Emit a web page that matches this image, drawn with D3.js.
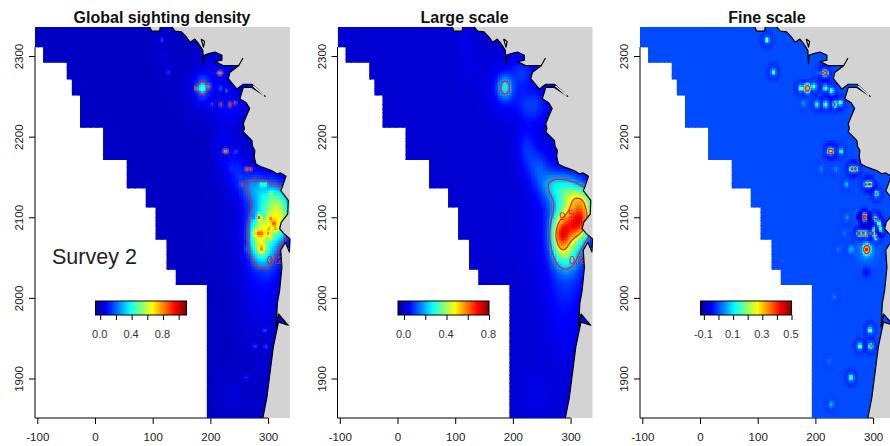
<!DOCTYPE html>
<html>
<head>
<meta charset="utf-8">
<script src="https://cdn.jsdelivr.net/npm/d3@7"></script>
<style>
  html, body { margin: 0; padding: 0; background: #fff; overflow: hidden; }
  svg { display: block; font-family: "Liberation Sans", Arial, sans-serif; }
</style>
</head>
<body>
<div id="chart"></div>
<script>
// tick labels
const xTicks = [-100, 0, 100, 200, 300];
const yTicks = [1900, 2000, 2100, 2200, 2300];

// west edge of the survey block, km
const surveyEdge = [
  [-104, 2311], [-90, 2311], [-90, 2292], [-49, 2292], [-49, 2271], [-40, 2271], [-40, 2251],
  [-26, 2251], [-26, 2211], [14, 2211], [14, 2171], [55, 2171], [55, 2136], [88, 2136],
  [88, 2112], [105, 2112], [105, 2072], [124, 2072], [124, 2035], [140, 2035], [140, 2016],
  [194, 2016], [194, 1851]
];
const coastTop = [[95, 2336], [98, 2331], [112, 2331], [113, 2336]];
const coast = [
  [133, 2336], [139, 2331], [150, 2330], [158, 2324], [165, 2317], [173, 2321], [178, 2317], [187, 2307],
  [188, 2290], [189, 2301], [197, 2303], [208, 2305], [220, 2301], [220, 2295], [208, 2293],
  [223, 2288], [237, 2288], [249, 2288], [256, 2297], [249, 2288], [234, 2280], [231, 2272],
  [246, 2259], [257, 2265], [272, 2265], [295, 2250], [272, 2261], [257, 2261], [251, 2247],
  [262, 2242], [268, 2235], [262, 2225], [257, 2216], [259, 2210], [257, 2206], [264, 2201],
  [272, 2195], [273, 2188], [277, 2183], [276, 2175], [279, 2166], [287, 2163], [298, 2160],
  [306, 2158], [315, 2154], [322, 2155], [331, 2151], [325, 2138], [322, 2133], [335, 2121],
  [334, 2104], [323, 2094], [320, 2086], [327, 2080], [338, 2073], [337, 2057], [330, 2069],
  [322, 2059], [324, 2038], [320, 2009], [316, 1993], [314, 1964], [318, 1980], [335, 1966],
  [318, 1970], [309, 1939], [298, 1877], [291, 1851]
];
const river = [[274, 2263], [293, 2251]];
const island = [[184, 2321], [190, 2318], [188, 2311], [184, 2321]];

// large scale surface: x, y, height, spread x, spread y
const largeBlobs = [
  [283, 2078, 0.40, 11, 16], [310, 2092, 0.30, 13, 15], [298, 2086, 0.30, 20, 30],
  [325, 2100, 0.28, 12, 14], [318, 2122, 0.18, 16, 10], [300, 2125, 0.10, 28, 16],
  [290, 2050, 0.10, 14, 12], [285, 2100, 0.03, 45, 60], [186, 2261, 0.20, 9, 10],
  [190, 2258, 0.05, 24, 24], [218, 2280, 0.07, 14, 12], [240, 2240, 0.05, 20, 15],
  [230, 2236, 0.04, 16, 14], [224, 2186, 0.07, 12, 18], [245, 2160, 0.09, 14, 16],
  [270, 2140, 0.11, 16, 12], [295, 2135, 0.08, 20, 12], [290, 2020, 0.05, 22, 30],
  [290, 1960, 0.025, 25, 40], [240, 1880, 0.02, 20, 20], [114, 2320, 0.015, 12, 20],
  [126, 2286, 0.015, 12, 16]
];
// fine scale spikes: x, y, height, spread
const fineBlobs = [
  [116, 2320, 0.21, 2], [127, 2280, 0.22, 2], [218, 2279, 0.30, 2.2], [213, 2279, 0.2, 1.8],
  [205, 2279, 0.05, 1.8], [186, 2260, 0.34, 3.5], [175, 2260, 0.25, 2], [197, 2262, 0.2, 2],
  [218, 2260, 0.2, 2], [228, 2257, 0.2, 2], [179, 2241, 0.05, 2.2], [203, 2240, 0.21, 2],
  [218, 2240, 0.21, 2], [234, 2240, 0.24, 2.2], [243, 2242, 0.22, 2], [224, 2182, 0.28, 2.2],
  [229, 2182, 0.28, 2], [244, 2182, 0.15, 2], [263, 2160, 0.27, 2], [270, 2160, 0.27, 2],
  [236, 2160, 0.05, 2], [210, 2160, 0.04, 2], [288, 2141, 0.25, 2], [295, 2141, 0.28, 2],
  [254, 2141, 0.08, 2], [306, 2129, 0.22, 1.8], [285, 2100, 0.62, 1.8], [276, 2100, -0.1, 2],
  [294, 2100, -0.09, 2], [304, 2098, 0.3, 2], [310, 2092, 0.3, 2], [313, 2085, 0.28, 2],
  [300, 2080, 0.28, 2], [305, 2075, 0.24, 2], [276, 2080, 0.28, 2], [283, 2080, 0.28, 2],
  [290, 2080, 0.28, 2], [302, 2086, 0.28, 1.8], [289, 2060, 0.2, 2], [289, 2060, 0.26, 6],
  [262, 2060, 0.06, 3], [240, 2060, 0.03, 2], [255, 2100, 0.05, 2], [250, 2080, 0.03, 2],
  [289, 2032, -0.04, 5], [295, 1960, 0.22, 2], [277, 1940, 0.22, 2], [296, 1940, 0.22, 2],
  [224, 1921, 0.03, 2], [262, 1901, 0.2, 2], [228, 1868, 0.08, 2], [233, 2001, 0.03, 2]
];

// tim.colors style ramp
const jetStops = [0, 0.125, 0.375, 0.625, 0.875, 1];
const jetColors = ['#00008f', '#0000ff', '#00ffff', '#ffff00', '#ff0000', '#800000'];

const panelTitles = ['Global sighting density', 'Large scale', 'Fine scale'];
const panelRanges = [[-0.06, 1.1], [-0.057, 0.8], [-0.123, 0.5]];
const panelLevels = [[0.2, 0.9], [0.2, 0.5], [0.2, 0.4]];
const legendTicks = [
  [0, 0.2, 0.4, 0.6, 0.8, 1],
  [0, 0.2, 0.4, 0.6, 0.8],
  [-0.1, 0, 0.1, 0.2, 0.3, 0.4, 0.5]
];
const contourLabels = [
  [{ t: '0.2', x: 312, y: 2047, r: 0 }],
  [{ t: '0.2', x: 311, y: 2047, r: 0 }, { t: '0.5', x: 294, y: 2103, r: -15 }],
  []
];

const width = 890, height = 446;
const panelStep = 302.5;
const plot = { left: 35, right: 290, top: 27, bottom: 418 };

const svg = d3.select('#chart').append('svg').attr('width', width).attr('height', height);
const defs = svg.append('defs');

const x = d3.scaleLinear().domain([-104, 338]).range([plot.left, plot.right]);
const y = d3.scaleLinear().domain([1851, 2336]).range([plot.bottom, plot.top]);

// survey polygon: top left corner, along the coast, back up the stepped west edge
const sea = [[-104, 2336]].concat(coastTop, coast, surveyEdge.slice().reverse());
const west = surveyEdge.concat([[-104, 1851]]);
const lineXY = d3.line().x(d => x(d[0])).y(d => y(d[1]));

// grid for the surface
const dx = 3, dy = 2;
const gx = d3.range(-104, 338, dx);
const gy = d3.range(2336, 1851, -dy);
const nx = gx.length, ny = gy.length;

function largeAt(px, py) {
  let v = 0.008;
  largeBlobs.forEach(b => {
    const a = (px - b[0]) / b[3], c = (py - b[1]) / b[4];
    v += b[2] * Math.exp(-0.5 * (a * a + c * c));
  });
  return v;
}
function fineAt(px, py) {
  let v = 0;
  fineBlobs.forEach(b => {
    const d = Math.hypot(px - b[0], py - b[1]);
    if (d > 20 + b[3]) return;
    const r = d / b[3];
    // spike, pale halo, dark ring round it
    v += b[2] * (Math.exp(-0.5 * r * r) + 0.08 * Math.exp(-0.5 * (r / 2.4) ** 2)
      - 0.09 * Math.exp(-0.5 * ((d - 9) / 2.5) ** 2));
  });
  return v;
}

const large = [], fine = [], cells = [];
gy.forEach((py, j) => {
  gx.forEach((px, i) => {
    const cx = px + dx / 2, cy = py - dy / 2;
    large.push(largeAt(cx, cy));
    fine.push(fineAt(cx, cy));
    // a little wider than the cell so the edge of the clip always has colour under it
    const corners = [[px - 1, py + 1], [px + dx + 1, py + 1], [px - 1, py - dy - 1], [px + dx + 1, py - dy - 1]];
    if (corners.some(c => d3.polygonContains(sea, c))) cells.push({ i, j, k: j * nx + i });
  });
});
const globalField = large.map((v, k) => v + 0.7 * fine[k]);
const fields = [globalField, large, fine];

panelTitles.forEach((title, p) => {
  const g = svg.append('g').attr('transform', `translate(${p * panelStep},0)`);
  const [lo, hi] = panelRanges[p];
  const field = fields[p];

  const color = d3.scaleLinear()
    .domain(jetStops.map(s => lo + s * (hi - lo)))
    .range(jetColors)
    .clamp(true);

  // land, then the blank part west of the survey block
  g.append('rect').attr('x', plot.left).attr('y', plot.top)
    .attr('width', plot.right - plot.left).attr('height', plot.bottom - plot.top)
    .attr('fill', '#d3d3d3');
  g.append('path').attr('d', lineXY(west) + 'Z').attr('fill', '#fff');

  // axes
  const xAxis = g.append('g').attr('transform', `translate(0,${plot.bottom})`)
    .call(d3.axisBottom(x).tickValues(xTicks).tickSize(6).tickPadding(9).tickFormat(d => String(d)));
  xAxis.select('.domain').remove();
  xAxis.append('line').attr('x1', plot.left).attr('x2', x(300)).attr('stroke', '#000');
  xAxis.selectAll('text').attr('font-size', 11.5).attr('font-family', null).attr('fill', '#222');

  const yAxis = g.append('g').attr('transform', `translate(${plot.left},0)`)
    .call(d3.axisLeft(y).tickValues(yTicks).tickSize(6).tickFormat(d => String(d)));
  yAxis.select('.domain').remove();
  yAxis.append('line').attr('y1', y(2311)).attr('y2', plot.bottom).attr('stroke', '#000');
  yAxis.selectAll('.tick text')
    .attr('font-size', 11.5).attr('font-family', null).attr('fill', '#222')
    .attr('x', null).attr('dy', null)
    .attr('text-anchor', 'middle')
    .attr('transform', 'translate(-12,0) rotate(-90)');

  // surface, clipped to the survey polygon
  const clipId = 'sea-' + p;
  defs.append('clipPath').attr('id', clipId).append('path').attr('d', lineXY(sea) + 'Z');
  const surface = g.append('g').attr('clip-path', `url(#${clipId})`);

  surface.append('g').attr('shape-rendering', 'crispEdges')
    .selectAll('rect')
    .data(cells)
    .join('rect')
    .attr('x', d => x(gx[d.i]))
    .attr('y', d => y(gy[d.j]))
    .attr('width', d => x(gx[d.i] + dx) - x(gx[d.i]) + 0.3)
    .attr('height', d => y(gy[d.j] - dy) - y(gy[d.j]) + 0.3)
    .attr('fill', d => (field[d.k] > hi ? '#fff' : color(field[d.k])));

  const contourPath = d3.geoPath(d3.geoTransform({
    point(a, b) {
      this.stream.point(x(gx[0] + a * dx), y(gy[0] - b * dy));
    }
  }));
  surface.append('g').selectAll('path')
    .data(d3.contours().size([nx, ny]).thresholds(panelLevels[p])(field))
    .join('path')
    .attr('d', contourPath)
    .attr('fill', 'none')
    .attr('stroke', '#e0202f')
    .attr('stroke-width', 1.3);

  surface.selectAll('text')
    .data(contourLabels[p])
    .join('text')
    .attr('transform', d => `translate(${x(d.x)},${y(d.y)}) rotate(${d.r})`)
    .attr('text-anchor', 'middle')
    .attr('dy', '0.35em')
    .attr('font-size', 11)
    .attr('fill', '#e0202f')
    .text(d => d.t);

  // coast
  [coastTop, coast, island].forEach(c => {
    g.append('path').attr('d', lineXY(c)).attr('fill', 'none')
      .attr('stroke', '#000').attr('stroke-width', 1.2).attr('stroke-linejoin', 'round');
  });
  g.append('path').attr('d', lineXY(river)).attr('fill', 'none')
    .attr('stroke', '#fff').attr('stroke-width', 1.2);

  g.append('text')
    .attr('x', 162).attr('y', 23)
    .attr('text-anchor', 'middle')
    .attr('font-size', 16).attr('font-weight', 'bold').attr('fill', '#111')
    .text(title);

  // legend bar
  const gradId = 'jet-' + p;
  const grad = defs.append('linearGradient').attr('id', gradId);
  grad.selectAll('stop')
    .data(jetStops)
    .enter()
    .append('stop')
    .attr('offset', d => d * 100 + '%')
    .attr('stop-color', (d, i) => jetColors[i]);

  const barX = 95.5, barW = 91, barY = 301, barH = 14;
  g.append('rect').attr('x', barX).attr('y', barY).attr('width', barW).attr('height', barH)
    .attr('fill', `url(#${gradId})`).attr('stroke', '#000');
  const xLeg = d3.scaleLinear().domain([lo, hi]).range([barX, barX + barW]);
  const labels = legendTicks[p].filter((d, i) => i % 2 === 0);
  const legAxis = g.append('g').attr('transform', `translate(0,${barY + barH})`)
    .call(d3.axisBottom(xLeg).tickValues(legendTicks[p]).tickSize(5).tickPadding(10)
      .tickFormat(d => (labels.includes(d) ? d.toFixed(1) : '')));
  legAxis.select('.domain').remove();
  legAxis.selectAll('text').attr('font-size', 11).attr('font-family', null).attr('fill', '#333')
    .attr('dx', -1);
});

svg.append('text')
  .attr('x', 52).attr('y', 264)
  .attr('font-size', 21.5).attr('fill', '#222')
  .text('Survey 2');
</script>
</body>
</html>
